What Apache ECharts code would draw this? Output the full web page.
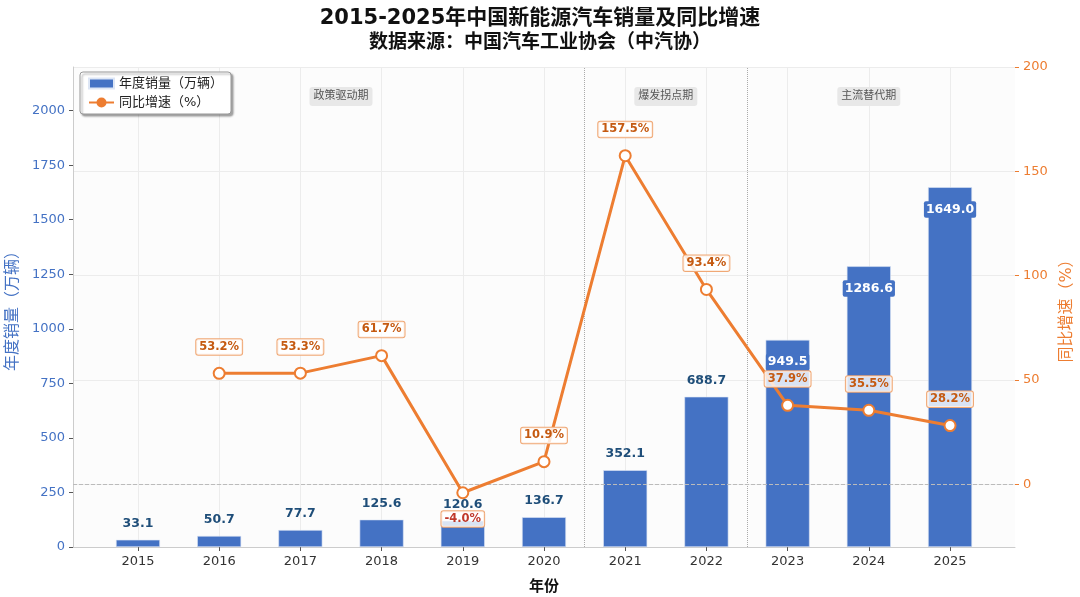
<!DOCTYPE html>
<html>
<head>
<meta charset="utf-8">
<script src="https://cdn.jsdelivr.net/npm/echarts@6/dist/echarts.min.js"></script>
<style>
  html, body { margin: 0; padding: 0; background: #fff; }
  #chart { width: 1080px; height: 597px; }
</style>
</head>
<body>
<div id="chart"></div>
<script>
// 年份
var years = ['2015', '2016', '2017', '2018', '2019', '2020', '2021', '2022', '2023', '2024', '2025'];
// 年度销量（万辆）
var sales = [33.1, 50.7, 77.7, 125.6, 120.6, 136.7, 352.1, 688.7, 949.5, 1286.6, 1649.0];
// 同比增速（%），2015 无数据
var growth = [null, 53.2, 53.3, 61.7, -4.0, 10.9, 157.5, 93.4, 37.9, 35.5, 28.2];
// 阶段标注
var phaseNames = ['政策驱动期', '爆发拐点期', '主流替代期'];
var phaseCenters = [2.5, 6.5, 9];
var phaseBreaks = [5.5, 7.5];
// 刻度
var leftTicks = [0, 250, 500, 750, 1000, 1250, 1500, 1750, 2000];
var rightTicks = [0, 50, 100, 150, 200];

var BLUE = '#4472C4';
var ORANGE = '#ED7D31';
var FONT = "'DejaVu Sans', 'Noto Sans CJK SC', sans-serif";

(function () {
  var chart = echarts.init(document.getElementById('chart'));
  var idx = years.map(function (y, i) { return i; });

  var barData = sales.map(function (v, i) {
    var item = { value: [i, v] };
    if (i >= 8) {
      // 大柱子的数值放在柱内
      item.label = {
        position: 'insideTop',
        distance: 14,
        color: '#fff',
        backgroundColor: BLUE,
        borderRadius: 2,
        padding: [2, 2]
      };
    }
    return item;
  });

  var lineData = growth.map(function (v, i) {
    if (v === null) return { value: [i, '-'] };
    var item = { value: [i, v] };
    if (v < 0) {
      item.label = { position: 'bottom', color: '#C0392B' };
    }
    return item;
  });

  var phaseMarks = phaseNames.map(function (n, i) {
    return { name: n, coord: [phaseCenters[i], 2065], value: n };
  });

  var option = {
    backgroundColor: '#fff',
    textStyle: { fontFamily: FONT },
    title: {
      text: '{a|2015-2025年中国新能源汽车销量及同比增速}\n{b|数据来源：中国汽车工业协会（中汽协）}',
      left: 'center',
      top: 2,
      textStyle: {
        fontFamily: FONT,
        rich: {
          a: { fontSize: 21, fontWeight: 'bold', color: '#111', lineHeight: 24, align: 'center', fontFamily: FONT },
          b: { fontSize: 19, fontWeight: 'bold', color: '#111', lineHeight: 24, align: 'center', fontFamily: FONT }
        }
      }
    },
    legend: {
      left: 80,
      top: 72,
      orient: 'vertical',
      itemWidth: 25,
      itemHeight: 10,
      itemGap: 6,
      padding: [5, 8],
      backgroundColor: '#fff',
      borderColor: '#999',
      borderWidth: 1,
      borderRadius: 3,
      shadowBlur: 2,
      shadowOffsetX: 2,
      shadowOffsetY: 2,
      shadowColor: 'rgba(0,0,0,0.35)',
      textStyle: { fontSize: 13, color: '#222' },
      data: [
        { name: '年度销量（万辆）', icon: 'rect' },
        { name: '同比增速（%）', itemStyle: { color: ORANGE, borderColor: ORANGE } }
      ]
    },
    grid: {
      left: 73, right: 65, top: 67, bottom: 50,
      outerBoundsMode: 'none',
      containLabel: false,
      show: true, backgroundColor: '#fcfcfc', borderWidth: 0
    },
    xAxis: {
      type: 'value',
      min: -0.8,
      max: 10.8,
      name: '年份',
      nameLocation: 'middle',
      nameGap: 33,
      nameTextStyle: { fontSize: 15, fontWeight: 'bold', color: '#111' },
      axisLine: { show: true, onZero: false, lineStyle: { color: '#ccc' } },
      axisTick: { show: true, customValues: idx, length: 4, lineStyle: { color: '#555' } },
      axisLabel: {
        customValues: idx,
        color: '#333',
        fontSize: 13,
        formatter: function (v) { return years[Math.round(v)]; }
      },
      splitLine: { show: true, lineStyle: { color: '#ececec' } }
    },
    yAxis: [
      {
        type: 'value',
        min: 0,
        max: 2200,
        interval: 250,
        name: '年度销量（万辆）',
        nameLocation: 'middle',
        nameGap: 52,
        nameTextStyle: { fontSize: 16, color: BLUE },
        axisLine: { show: true, onZero: false, lineStyle: { color: '#ccc' } },
        axisTick: { show: true, customValues: leftTicks, length: 4, lineStyle: { color: '#555' } },
        axisLabel: {
          customValues: leftTicks, color: BLUE, fontSize: 13,
          formatter: function (v) { return String(v); }
        },
        splitLine: { show: false }
      },
      {
        type: 'value',
        min: -30,
        max: 200,
        position: 'right',
        name: '同比增速（%）',
        nameLocation: 'middle',
        nameGap: 44,
        nameTextStyle: { fontSize: 16, color: ORANGE },
        axisLine: { show: false, onZero: false },
        axisTick: { show: true, customValues: rightTicks, length: 4, lineStyle: { color: ORANGE } },
        axisLabel: {
          customValues: rightTicks, color: ORANGE, fontSize: 13,
          formatter: function (v) { return String(v); }
        },
        splitLine: { show: true, lineStyle: { color: '#ececec' } }
      }
    ],
    series: [
      {
        name: '年度销量（万辆）',
        type: 'bar',
        yAxisIndex: 0,
        barWidth: 44,
        data: barData,
        itemStyle: { color: BLUE, borderColor: '#dde6f5', borderWidth: 0.6 },
        label: {
          show: true,
          position: 'top',
          distance: 10,
          color: '#1F4E79',
          fontWeight: 'bold',
          fontSize: 12.5,
          formatter: function (p) { return p.value[1].toFixed(1); }
        },
        z: 2,
        markPoint: {
          symbol: 'rect',
          symbolSize: 0,
          silent: true,
          label: {
            show: true,
            position: 'inside',
            formatter: '{b}',
            color: '#555',
            fontSize: 11,
            backgroundColor: '#e8e8e8',
            borderRadius: 3,
            padding: [4, 4]
          },
          data: phaseMarks
        },
        markLine: {
          symbol: 'none',
          silent: true,
          label: { show: false },
          lineStyle: { color: '#aaa', type: 'dotted', width: 1 },
          data: phaseBreaks.map(function (x) { return { xAxis: x }; })
        }
      },
      {
        name: '同比增速（%）',
        type: 'line',
        yAxisIndex: 1,
        data: lineData,
        connectNulls: false,
        symbol: 'circle',
        symbolSize: 11,
        lineStyle: { color: ORANGE, width: 3 },
        itemStyle: { color: '#fff', borderColor: ORANGE, borderWidth: 2 },
        label: {
          show: true,
          position: 'top',
          distance: 12,
          color: '#C55A11',
          fontWeight: 'bold',
          fontSize: 11.5,
          backgroundColor: 'rgba(255,255,255,0.8)',
          borderColor: '#F0A875',
          borderWidth: 1,
          borderRadius: 2,
          padding: [2, 3],
          formatter: function (p) { return p.value[1].toFixed(1) + '%'; }
        },
        z: 5,
        markLine: {
          symbol: 'none',
          silent: true,
          label: { show: false },
          lineStyle: { color: '#bbb', type: 'dashed', width: 1 },
          data: [{ yAxis: 0 }]
        }
      }
    ]
  };

  chart.setOption(option);
}());
</script>
</body>
</html>
